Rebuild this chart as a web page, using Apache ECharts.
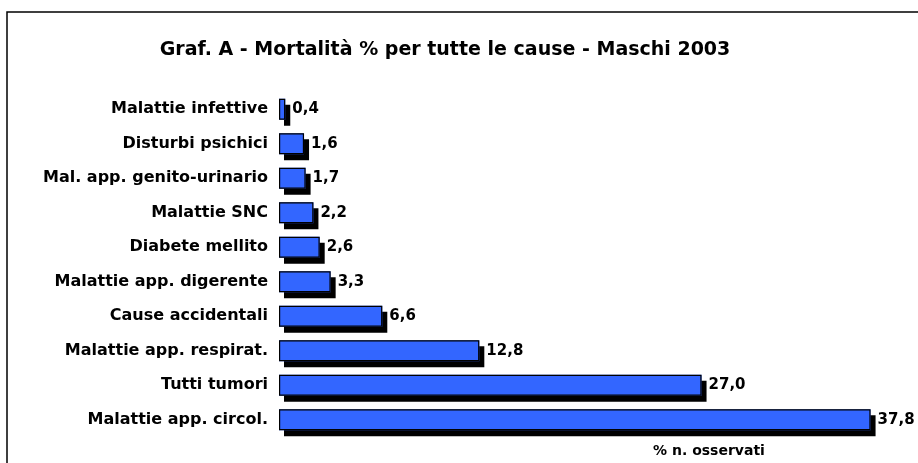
<!DOCTYPE html>
<html>
<head>
<meta charset="utf-8">
<script src="https://cdn.jsdelivr.net/npm/echarts@6/dist/echarts.min.js"></script>
<style>
  html, body { margin: 0; padding: 0; background: #fff; }
  #chart { width: 918px; height: 463px; }
</style>
</head>
<body>
<div id="chart"></div>
<script>
// categories top -> bottom
const causes = [
  "Malattie infettive",
  "Disturbi psichici",
  "Mal. app. genito-urinario",
  "Malattie SNC",
  "Diabete mellito",
  "Malattie app. digerente",
  "Cause accidentali",
  "Malattie app. respirat.",
  "Tutti tumori",
  "Malattie app. circol."
];
const percent = [0.4, 1.6, 1.7, 2.2, 2.6, 3.3, 6.6, 12.8, 27.0, 37.8];

const chartTitle = "Graf. A - Mortalità % per tutte le cause - Maschi 2003";
const axisTitle = "% n. osservati";

const font = "DejaVu Sans";

const myChart = echarts.init(document.getElementById("chart"), null, {
  width: 918,
  height: 463
});

let option = {
  animation: false,
  backgroundColor: "#fff",
  title: {
    text: chartTitle,
    left: 440,
    top: 45,
    textAlign: "center",
    textVerticalAlign: "middle",
    textStyle: { fontFamily: font, fontSize: 19, fontWeight: "bold", color: "#000" }
  },
  graphic: [
    {
      type: "rect",
      shape: { x: 7, y: 12, width: 1000, height: 1000 },
      style: { fill: null, stroke: "#000", lineWidth: 1.5 },
      silent: true
    },
    {
      type: "text",
      x: 709,
      y: 451,
      style: {
        text: axisTitle,
        align: "center",
        verticalAlign: "middle",
        font: "bold 14px 'DejaVu Sans'",
        fill: "#000"
      }
    }
  ],
  grid: { left: 279, right: 13, top: 92, bottom: 26 },
  xAxis: {
    type: "value",
    min: 0,
    max: 40,
    show: false
  },
  yAxis: {
    type: "category",
    data: causes,
    inverse: true,
    axisLine: { show: false },
    axisTick: { show: false },
    axisLabel: {
      margin: 11,
      fontFamily: font,
      fontSize: 16,
      fontWeight: "bold",
      color: "#000"
    }
  },
  series: [
    {
      // filled bars with drop shadow
      type: "bar",
      data: percent,
      barWidth: 21,
      itemStyle: {
        color: "#3366FF",
        borderWidth: 0,
        shadowColor: "#000",
        shadowOffsetX: 5,
        shadowOffsetY: 6,
        shadowBlur: 0
      }
    },
    {
      // outline on top, plus value labels
      type: "bar",
      data: percent,
      barWidth: 21,
      barGap: "-100%",
      z: 3,
      itemStyle: {
        color: "transparent",
        borderColor: "#000",
        borderWidth: 1.2
      },
      label: {
        show: true,
        position: "right",
        distance: 7,
        fontFamily: font,
        fontSize: 15,
        fontWeight: "bold",
        color: "#000",
        formatter: (p) => p.value.toFixed(1).replace(".", ",")
      }
    }
  ]
};

option && myChart.setOption(option);
</script>
</body>
</html>
